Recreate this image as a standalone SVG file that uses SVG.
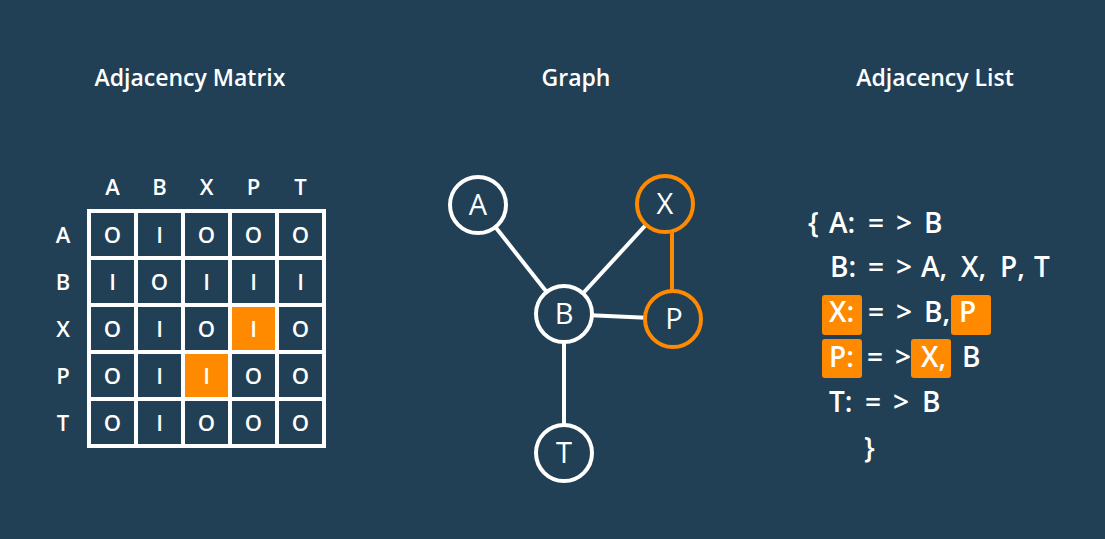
<svg xmlns="http://www.w3.org/2000/svg" width="1105" height="539" viewBox="0 0 1105 539">
<style>
.t{font-family:"Open Sans","Liberation Sans",sans-serif;fill:#fff}
.title{font-size:23px;font-weight:600;text-anchor:middle}
.hd{font-size:22px;font-weight:600;text-anchor:middle}
.cell{font-size:22px;font-weight:600;text-anchor:middle}
.nl{font-size:29px;font-weight:400;text-anchor:middle}
.ls{font-size:28px;font-weight:600}
.node{fill:#213f55;stroke:#fff;stroke-width:4}
.node.hi{stroke:#ff8a00}
.edge{stroke:#fff;stroke-width:4}
.edge.hi{stroke:#ff8a00}
.hl{fill:#ff8a00}
</style>
<rect width="1105" height="539" fill="#213f55"/>

<g id="titles">
<text class="t title" x="190" y="86">Adjacency Matrix</text>
<text class="t title" x="576" y="86">Graph</text>
<text class="t title" x="935" y="86">Adjacency List</text>
</g>

<g id="matrix">
<rect class="hl" x="230" y="305" width="47" height="47"/>
<rect class="hl" x="183" y="352" width="47" height="47"/>
<path d="M89 211H324V446H89Z M136 211V446 M183 211V446 M230 211V446 M277 211V446 M89 258H324 M89 305H324 M89 352H324 M89 399H324" fill="none" stroke="#fff" stroke-width="4"/>
<g class="t hd">
<text x="112.5" y="195">A</text><text x="159.5" y="195">B</text><text x="206.5" y="195">X</text><text x="253.5" y="195">P</text><text x="300.5" y="195">T</text>
<text x="63" y="242.5">A</text><text x="63" y="289.5">B</text><text x="63" y="336.5">X</text><text x="63" y="383.5">P</text><text x="63" y="430.5">T</text>
</g>
<g class="t cell">
<text x="112.5" y="242.5">O</text><text x="159.5" y="242.5">I</text><text x="206.5" y="242.5">O</text><text x="253.5" y="242.5">O</text><text x="300.5" y="242.5">O</text>
<text x="112.5" y="289.5">I</text><text x="159.5" y="289.5">O</text><text x="206.5" y="289.5">I</text><text x="253.5" y="289.5">I</text><text x="300.5" y="289.5">I</text>
<text x="112.5" y="336.5">O</text><text x="159.5" y="336.5">I</text><text x="206.5" y="336.5">O</text><text x="253.5" y="336.5">I</text><text x="300.5" y="336.5">O</text>
<text x="112.5" y="383.5">O</text><text x="159.5" y="383.5">I</text><text x="206.5" y="383.5">I</text><text x="253.5" y="383.5">O</text><text x="300.5" y="383.5">O</text>
<text x="112.5" y="430.5">O</text><text x="159.5" y="430.5">I</text><text x="206.5" y="430.5">O</text><text x="253.5" y="430.5">O</text><text x="300.5" y="430.5">O</text>
</g>
</g>

<g id="connectors">
<line class="edge" x1="478" y1="205" x2="564" y2="314"/>
<line class="edge" x1="665" y1="204" x2="564" y2="314"/>
<line class="edge" x1="564" y1="314" x2="673" y2="319"/>
<line class="edge" x1="564" y1="314" x2="564" y2="453"/>
<line class="edge hi" x1="672" y1="204" x2="672" y2="319"/>
</g>

<g id="node-A"><circle class="node" cx="478" cy="205" r="28"/><text class="t nl" x="478" y="215">A</text></g>
<g id="node-X"><circle class="node hi" cx="665" cy="204" r="28"/><text class="t nl" x="665" y="214">X</text></g>
<g id="node-B"><circle class="node" cx="564" cy="314" r="28"/><text class="t nl" x="564" y="324">B</text></g>
<g id="node-P"><circle class="node hi" cx="673" cy="319" r="28"/><text class="t nl" x="674" y="329">P</text></g>
<g id="node-T"><circle class="node" cx="564" cy="453" r="28"/><text class="t nl" x="564" y="463">T</text></g>

<g id="list">
<rect class="hl" x="822" y="295" width="40" height="40" rx="3"/>
<rect class="hl" x="951" y="295" width="40" height="40" rx="3"/>
<rect class="hl" x="822" y="339" width="40" height="39" rx="3"/>
<rect class="hl" x="911" y="339" width="40" height="39" rx="3"/>
<g class="t ls">
<text x="808" y="233">{</text><text x="829" y="233">A:</text><text x="868" y="233">=</text><text x="896" y="233">&gt;</text><text x="924" y="233">B</text>
<text x="830" y="277">B:</text><text x="868" y="277">=</text><text x="896" y="277">&gt;</text><text x="921" y="277">A,</text><text x="961" y="277">X,</text><text x="1000" y="277">P,</text><text x="1034" y="277">T</text>
<text x="829" y="322">X:</text><text x="868" y="322">=</text><text x="896" y="322">&gt;</text><text x="924" y="322">B,</text><text x="959" y="322">P</text>
<text x="829" y="367">P:</text><text x="867" y="367">=</text><text x="895" y="367">&gt;</text><text x="921" y="367">X,</text><text x="962" y="367">B</text>
<text x="829" y="412">T:</text><text x="865" y="412">=</text><text x="893" y="412">&gt;</text><text x="922" y="412">B</text>
<text x="864" y="458">}</text>
</g>
</g>
</svg>
